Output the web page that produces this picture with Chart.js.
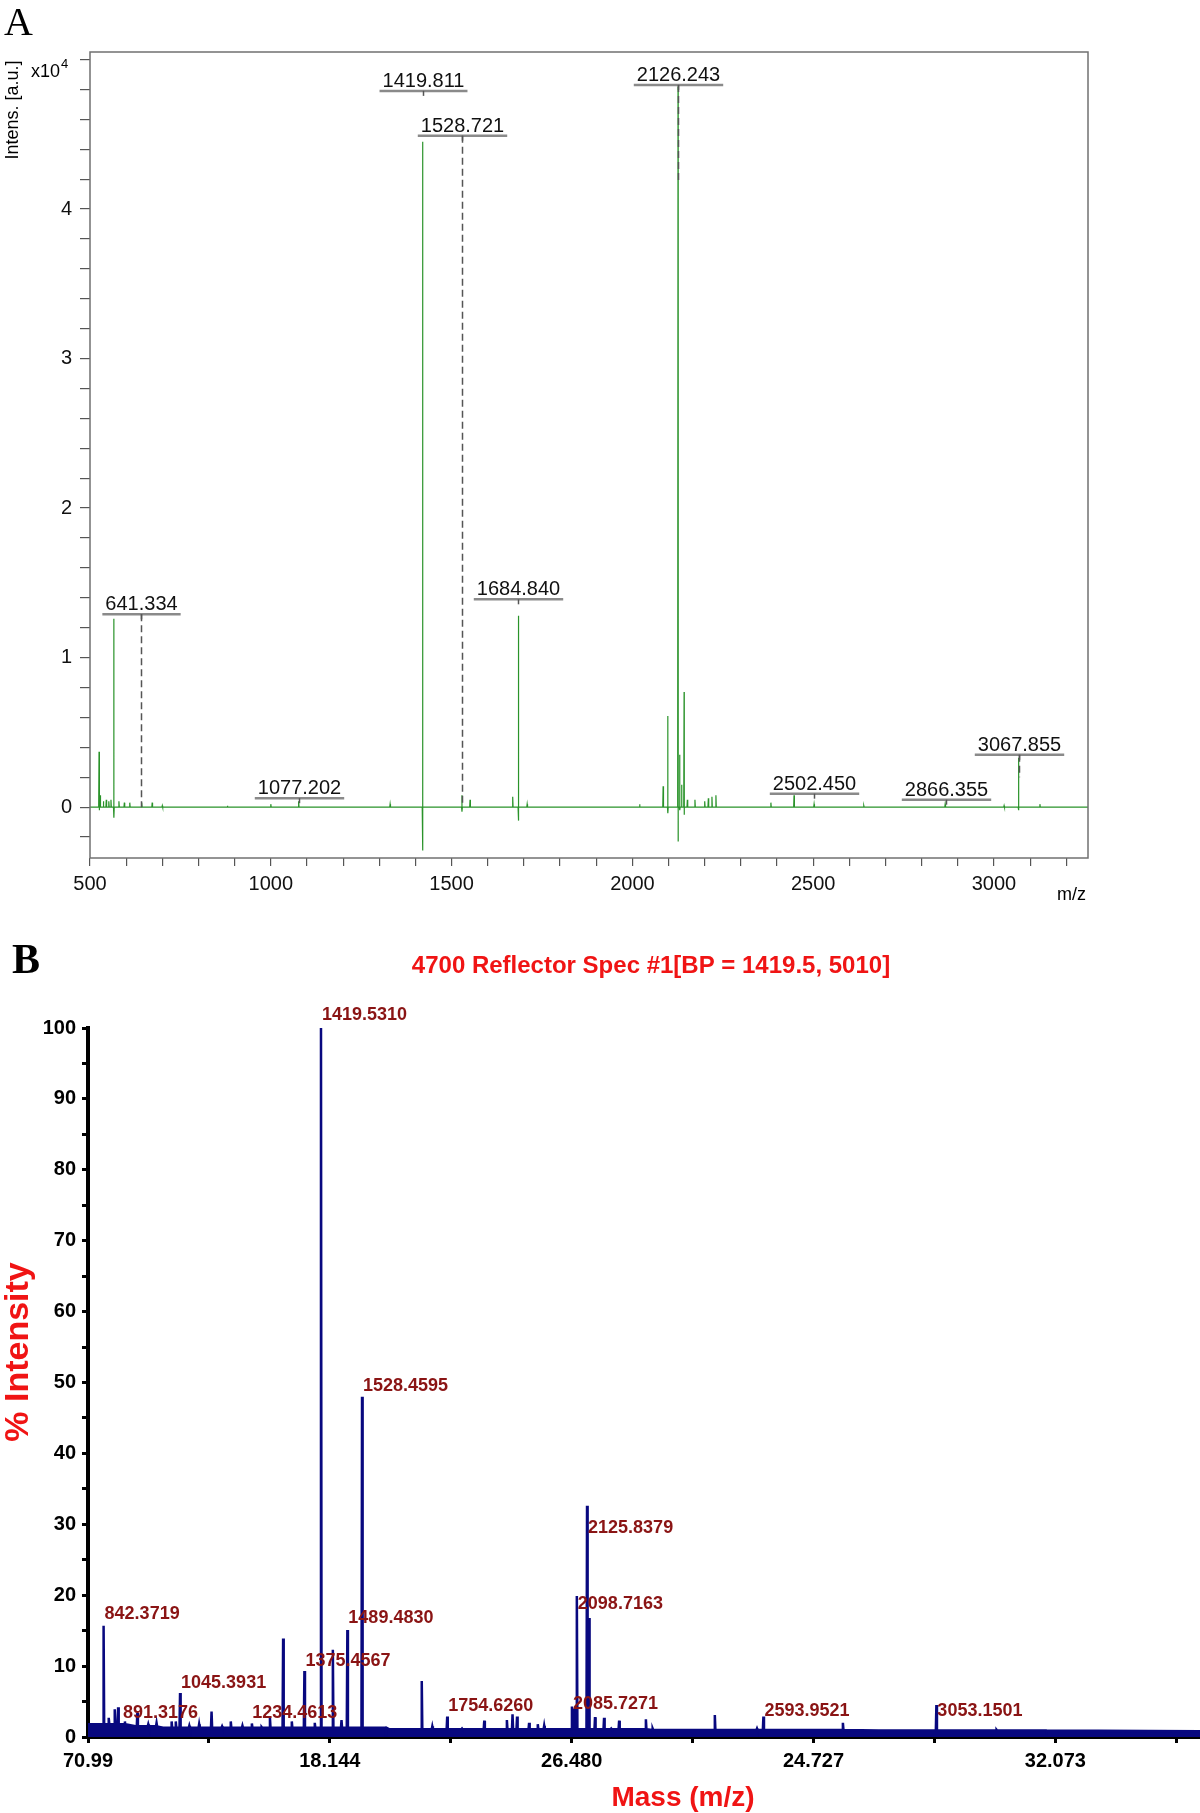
<!DOCTYPE html>
<html>
<head>
<meta charset="utf-8">
<script src="https://cdn.jsdelivr.net/npm/chart.js@4.4.0/dist/chart.umd.min.js"></script>
<style>
  html, body { margin: 0; padding: 0; background: #fff; }
  #wrapA { position: absolute; left: 0; top: 0; width: 1200px; height: 930px; }
  #wrapB { position: absolute; left: 0; top: 930px; width: 1200px; height: 883px; }
</style>
</head>
<body>
<div id="wrapA"><canvas id="chartA"></canvas></div>
<div id="wrapB"><canvas id="chartB"></canvas></div>
<script>
// ---- panel A : Bruker spectrum, intensity x10^4 ----
const peakMzA  = [525, 528, 537, 545, 552, 558, 566, 580, 595, 610, 643, 672, 700, 880, 1000, 1077, 1330, 1419.8, 1528.7, 1551,
                  1669, 1684.8, 1709, 2020, 2085, 2098, 2126.2, 2131, 2136, 2143, 2152, 2173, 2200, 2210, 2220, 2231, 2383, 2447, 2502.5, 2640,
                  2865, 3028, 3067.9, 3127]
const peakIntA = [0.37, 0.08, 0.04, 0.05, 0.04, 0.05, 1.26, 0.04, 0.03, 0.03, 0.03, 0.03, 0.01, 0.01, 0.02, 0.04, 0.02, 4.45, 0.08, 0.05,
                  0.07, 1.28, 0.02, 0.02, 0.14, 0.61, 4.82, 0.35, 0.15, 0.77, 0.05, 0.05, 0.04, 0.06, 0.07, 0.08, 0.03, 0.08, 0.02, 0.01,
                  0.02, 0.01, 0.33, 0.02]
const peakDipA = [-0.02, 0, 0, 0, 0, 0, -0.07, 0, 0, 0, 0, 0, 0, 0, 0, 0, 0, -0.29, -0.03, 0,
                  0, -0.09, 0, 0, 0, -0.04, -0.23, -0.02, 0, -0.05, 0, 0, 0, 0, 0, 0, 0, 0, 0, 0,
                  0, 0, -0.02, 0]

const labelTextA = ["641.334", "1077.202", "1419.811", "1528.721", "1684.840", "2126.243", "2502.450", "2866.355", "3067.855"]
const labelBarA  = [1.29, 0.06, 4.79, 4.49, 1.39, 4.83, 0.09, 0.05, 0.35]
const labelDashA = [0, null, null, 0.02, null, 4.17, null, null, 0.2]

const xTicksA = [500, 600, 700, 800, 900, 1000, 1100, 1200, 1300, 1400, 1500, 1600, 1700, 1800, 1900, 2000,
                 2100, 2200, 2300, 2400, 2500, 2600, 2700, 2800, 2900, 3000, 3100, 3200]
const yTicksA = [-0.2, 0, 0.2, 0.4, 0.6, 0.8, 1, 1.2, 1.4, 1.6, 1.8, 2, 2.2, 2.4, 2.6, 2.8, 3,
                 3.2, 3.4, 3.6, 3.8, 4, 4.2, 4.4, 4.6, 4.8, 5]
const yLabelsA = [0, 1, 2, 3, 4]

// ---- panel B : 4700 reflector spectrum, % intensity ----
const peakMzB  = [842.4, 856, 872, 881, 899, 932, 961, 983, 1023, 1034, 1045.4, 1070, 1096, 1129, 1157, 1180, 1211, 1236, 1262, 1284,
                  1319, 1342, 1375.5, 1403, 1419.5, 1451, 1474, 1489.5, 1528.5, 1549, 1592, 1611, 1687, 1715, 1754.6, 1794, 1853, 1913, 1928, 1940,
                  1972, 1995, 2012, 2065, 2085.7, 2092, 2098.7, 2125.8, 2131, 2147, 2171, 2190, 2211, 2282, 2300, 2336, 2381, 2465, 2577, 2594,
                  2805, 2920, 3053.2, 3213, 3346]
const peakIntB = [15.7, 2.7, 3.9, 4.2, 2.2, 3.4, 1.8, 2.0, 2.2, 2.2, 6.2, 1.6, 1.8, 3.6, 1.5, 2.2, 1.6, 1.9, 1.4, 2.7,
                  13.9, 2.2, 9.3, 2.0, 100, 12.3, 2.4, 15.1, 48.0, 1.2, 1.0, 0.8, 7.9, 1.5, 2.9, 1.2, 2.3, 2.4, 3.2, 2.9,
                  2.0, 1.8, 1.6, 1.1, 4.3, 4.0, 19.9, 32.6, 16.8, 2.8, 2.7, 1.2, 2.3, 2.5, 1.2, 0.9, 1.0, 3.1, 1.2, 2.9,
                  2.0, 0.8, 4.5, 1.0, 0.8]
const baseMzB    = [801, 900, 1000, 1600, 2300, 2900, 3753]
const baseLevelB = [1.8, 1.5, 1.3, 1.1, 1.0, 0.9, 0.8]

const labelTextB  = ["842.3719", "891.3176", "1045.3931", "1234.4613", "1375.4567", "1419.5310", "1489.4830",
                     "1528.4595", "1754.6260", "2085.7271", "2098.7163", "2125.8379", "2593.9521", "3053.1501"]
const labelLevelB = [17.3, 3.4, 7.6, 3.4, 10.7, 101.8, 16.8, 49.5, 4.4, 4.7, 18.8, 29.5, 3.6, 3.7]

const xTicksB      = [801, 1122, 1443, 1764, 2085, 2406, 2727, 3048, 3369, 3690]
const xTickLabelsB = ["70.99", "", "18.144", "", "26.480", "", "24.727", "", "32.073", ""]
const yTicksB = [0, 5, 10, 15, 20, 25, 30, 35, 40, 45, 50, 55, 60, 65, 70, 75, 80, 85, 90, 95, 100]

const SANS = '"Liberation Sans", Arial, Helvetica, sans-serif'
const SERIF = '"Liberation Serif", "Times New Roman", serif'

// stick spectrum -> points for the line dataset
const montarPontosA = () => {
    const pts = [{x: 500, y: 0}]
    for (let i = 0; i < peakMzA.length; i++) {
        const m = peakMzA[i]
        pts.push({x: m - 1, y: 0}, {x: m, y: peakIntA[i]})
        if (peakDipA[i] !== 0) pts.push({x: m, y: peakDipA[i]})
        pts.push({x: m + 1, y: 0})
    }
    pts.push({x: 3260, y: 0})
    return pts.sort((a, b) => a.x - b.x)
}

const nivelBase = (m) => {
    let lv = baseLevelB[0]
    for (let k = 0; k < baseMzB.length; k++) if (m >= baseMzB[k]) lv = baseLevelB[k]
    return lv
}

const montarPontosB = () => {
    const pts = baseMzB.map((m, k) => ({x: m, y: baseLevelB[k]}))
    for (let i = 0; i < peakMzB.length; i++) {
        const m = peakMzB[i]
        const b = nivelBase(m)
        pts.push({x: m - 1.5, y: b}, {x: m, y: peakIntB[i]}, {x: m + 1.5, y: b})
    }
    return pts.sort((a, b) => a.x - b.x)
}

const linha = (ctx, x1, y1, x2, y2) => {
    ctx.beginPath(); ctx.moveTo(x1, y1); ctx.lineTo(x2, y2); ctx.stroke()
}

const plugA = {
    id: 'plugA',
    afterDraw(chart) {
        const {ctx, chartArea: a, scales: {x, y}} = chart
        ctx.save()
        ctx.strokeStyle = '#707070'
        ctx.lineWidth = 1.5
        ctx.strokeRect(a.left, a.top, a.right - a.left, a.bottom - a.top)

        ctx.font = '20px ' + SANS
        ctx.textAlign = 'center'
        ctx.textBaseline = 'alphabetic'
        labelTextA.forEach((t, i) => {
            const px = Math.round(x.getPixelForValue(Number(t))) + 0.5
            const py = y.getPixelForValue(labelBarA[i])
            const w = ctx.measureText(t).width + 6
            ctx.fillStyle = '#111'
            ctx.fillText(t, px, py - 4)
            ctx.strokeStyle = '#8a8a8a'
            ctx.lineWidth = 2.5
            linha(ctx, px - w / 2, py, px + w / 2, py)
            ctx.strokeStyle = '#555'
            ctx.lineWidth = 1.5
            linha(ctx, px, py, px, py + 5)
            if (labelDashA[i] !== null) {
                ctx.setLineDash([7, 4])
                linha(ctx, px, py, px, y.getPixelForValue(labelDashA[i]))
                ctx.setLineDash([])
            }
        })

        ctx.fillStyle = '#000'
        ctx.textAlign = 'left'
        ctx.font = '40px ' + SERIF
        ctx.fillText('A', 4, 35)

        ctx.font = '18px ' + SANS
        ctx.fillText('x10', 31, 77)
        const wx = ctx.measureText('x10').width
        ctx.font = '13px ' + SANS
        ctx.fillText('4', 31 + wx + 1, 68)

        ctx.font = '18px ' + SANS
        ctx.textAlign = 'right'
        ctx.fillText('m/z', 1086, 900)

        ctx.translate(13, 110)
        ctx.rotate(-Math.PI / 2)
        ctx.textAlign = 'center'
        ctx.textBaseline = 'middle'
        ctx.fillText('Intens. [a.u.]', 0, 0)
        ctx.restore()
    }
}

const plugB = {
    id: 'plugB',
    afterDraw(chart) {
        const {ctx, scales: {x, y}} = chart
        ctx.save()
        ctx.font = 'bold 18px ' + SANS
        ctx.fillStyle = '#8a1414'
        ctx.textAlign = 'left'
        ctx.textBaseline = 'middle'
        labelTextB.forEach((t, i) => {
            ctx.fillText(t, x.getPixelForValue(Number(t)) + 1, y.getPixelForValue(labelLevelB[i]))
        })

        ctx.fillStyle = '#000'
        ctx.font = 'bold 42px ' + SERIF
        ctx.textBaseline = 'alphabetic'
        ctx.fillText('B', 12, 43)

        ctx.fillStyle = '#f01414'
        ctx.textAlign = 'center'
        ctx.textBaseline = 'middle'
        ctx.font = 'bold 24px ' + SANS
        ctx.fillText('4700 Reflector Spec #1[BP = 1419.5, 5010]', 651, 36)
        ctx.font = 'bold 28px ' + SANS
        ctx.fillText('Mass (m/z)', 683, 868)

        ctx.translate(19, 422)
        ctx.rotate(-Math.PI / 2)
        ctx.font = 'bold 34px ' + SANS
        ctx.fillText('% Intensity', 0, 0)
        ctx.restore()
    }
}

const criarGraficoA = () => {
    new Chart(document.querySelector('#chartA'), {
        type: 'line',
        data: {
            datasets: [{
                data: montarPontosA(),
                borderColor: '#2a932a',
                borderWidth: 1.2,
                pointRadius: 0,
                tension: 0,
                fill: false
            }]
        },
        options: {
            responsive: true,
            maintainAspectRatio: false,
            animation: false,
            devicePixelRatio: 1,
            layout: { padding: { left: 0, right: 112, top: 52, bottom: 0 } },
            plugins: { legend: { display: false }, tooltip: { enabled: false }, title: { display: false } },
            scales: {
                x: {
                    type: 'linear', min: 500, max: 3260,
                    afterBuildTicks: s => { s.ticks = xTicksA.map(v => ({value: v})) },
                    afterFit: s => { s.height = 72 },
                    border: { display: false },
                    grid: { drawOnChartArea: false, tickLength: 8, color: '#555', lineWidth: 1.2 },
                    ticks: {
                        autoSkip: false, maxRotation: 0, padding: 6, color: '#111',
                        font: { family: SANS, size: 20 },
                        callback: v => (v % 500 === 0 ? String(v) : '')
                    }
                },
                y: {
                    type: 'linear', min: -0.34, max: 5.05,
                    afterBuildTicks: s => { s.ticks = yTicksA.map(v => ({value: v})) },
                    afterFit: s => { s.width = 90 },
                    border: { display: false },
                    grid: { drawOnChartArea: false, tickLength: 10, color: '#555', lineWidth: 1.2 },
                    ticks: {
                        autoSkip: false, padding: 8, color: '#111',
                        font: { family: SANS, size: 20 },
                        callback: v => (yLabelsA.some(l => Math.abs(l - v) < 1e-6) ? String(Math.round(v)) : '')
                    }
                }
            }
        },
        plugins: [plugA]
    })
}

const criarGraficoB = () => {
    new Chart(document.querySelector('#chartB'), {
        type: 'line',
        data: {
            datasets: [{
                data: montarPontosB(),
                borderColor: '#08087f',
                backgroundColor: '#08087f',
                borderWidth: 2.5,
                pointRadius: 0,
                tension: 0,
                fill: 'origin'
            }]
        },
        options: {
            responsive: true,
            maintainAspectRatio: false,
            animation: false,
            devicePixelRatio: 1,
            layout: { padding: { left: 0, right: 0, top: 98, bottom: 0 } },
            plugins: { legend: { display: false }, tooltip: { enabled: false }, title: { display: false } },
            scales: {
                x: {
                    type: 'linear', min: 801, max: 3753,
                    afterBuildTicks: s => { s.ticks = xTicksB.map(v => ({value: v})) },
                    afterFit: s => { s.height = 76 },
                    border: { display: true, color: '#000', width: 4 },
                    grid: { drawOnChartArea: false, tickLength: 6, color: '#000', lineWidth: 3 },
                    ticks: {
                        autoSkip: false, maxRotation: 0, padding: 6, color: '#000',
                        font: { family: SANS, size: 20, weight: 'bold' },
                        callback: (v, i) => xTickLabelsB[i]
                    }
                },
                y: {
                    type: 'linear', min: 0, max: 100,
                    afterBuildTicks: s => { s.ticks = yTicksB.map(v => ({value: v})) },
                    afterFit: s => { s.width = 88 },
                    border: { display: true, color: '#000', width: 4 },
                    grid: { drawOnChartArea: false, tickLength: 6, color: '#000', lineWidth: 3 },
                    ticks: {
                        autoSkip: false, padding: 6, color: '#000',
                        font: { family: SANS, size: 20, weight: 'bold' },
                        callback: v => (v % 10 === 0 ? String(v) : '')
                    }
                }
            }
        },
        plugins: [plugB]
    })
}

criarGraficoA()
criarGraficoB()
</script>
</body>
</html>
